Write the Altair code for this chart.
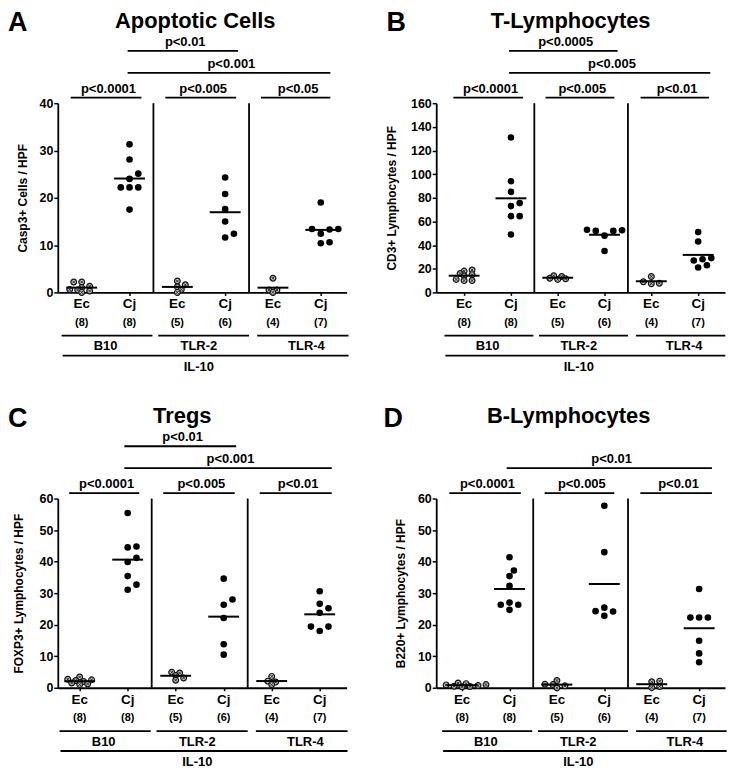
import altair as alt
import pandas as pd

FONT = "Liberation Sans"

# ---------------- data ----------------
group_labels = ["Ec", "Cj", "Ec", "Cj", "Ec", "Cj"]
group_counts = ["(8)", "(8)", "(5)", "(6)", "(4)", "(7)"]
strains = ["B10", "TLR-2", "TLR-4"]
strain_pos = [0.5, 2.45, 4.7]
strain_spans = [(-0.42, 1.48), (1.6, 3.5), (3.67, 5.58)]
il10_label = "IL-10"

A_vals = [
    [2.2, 2.2, 1.3, 1.0, 0.6, 0.5, 0.3, 0.0],
    [31.3, 28.1, 25.1, 24.0, 22.2, 22.2, 22.2, 17.5],
    [2.4, 1.6, 1.2, 0.6, 0.0],
    [24.3, 20.8, 17.6, 15.0, 12.4, 11.6],
    [3.0, 0.5, 0.5, 0.0],
    [19.0, 13.4, 13.4, 13.3, 12.4, 10.6, 10.4],
]
B_vals = [
    [19, 18, 16, 15, 14, 11, 10, 10],
    [131, 94, 85, 75.5, 73, 64.5, 64.5, 49],
    [14, 13.5, 12, 11.5, 11],
    [53, 52.5, 52, 52, 48, 35],
    [13.5, 9.0, 7.8, 7.4],
    [51, 43, 29, 28, 27, 23, 21],
]
C_vals = [
    [3.4, 2.7, 2.5, 2.3, 2.0, 1.5, 1.2, 1.0],
    [55.4, 44.8, 44.5, 41.2, 39.9, 35.4, 32.7, 31.1],
    [4.9, 4.7, 3.9, 3.1, 2.4],
    [34.6, 28.0, 26.3, 22.1, 13.8, 10.5],
    [3.6, 2.1, 1.8, 1.0],
    [30.6, 26.6, 25.2, 23.8, 19.4, 19.4, 18.0],
]
D_vals = [
    [1.5, 1.3, 1.0, 0.9, 0.7, 0.5, 0.4, 0.3],
    [41.4, 37.2, 35.4, 32.3, 27.0, 26.3, 26.3, 24.7],
    [2.3, 1.1, 1.0, 0.6, 0.0],
    [57.7, 43.0, 25.4, 24.3, 24.2, 22.8],
    [2.1, 1.9, 0.4, 0.1],
    [31.3, 22.3, 22.3, 22.3, 14.9, 10.9, 8.1],
]

# significance brackets: (from, to, label, level)
A_br = [(-0.23, 1.25, "p<0.0001", 0), (1.75, 3.23, "p<0.005", 0), (3.75, 5.2, "p<0.05", 0),
        (0.96, 5.2, "p<0.001", 1), (0.96, 3.27, "p<0.01", 2)]
B_br = [(-0.23, 1.26, "p<0.0001", 0), (1.74, 3.21, "p<0.005", 0), (3.77, 5.23, "p<0.01", 0),
        (0.96, 5.26, "p<0.005", 1), (0.96, 3.28, "p<0.0005", 2)]
C_br = [(-0.22, 1.24, "p<0.0001", 0), (1.74, 3.23, "p<0.005", 0), (3.75, 5.25, "p<0.01", 0),
        (0.93, 5.25, "p<0.001", 1), (0.93, 3.26, "p<0.01", 2)]
D_br = [(-0.27, 1.24, "p<0.0001", 0), (1.74, 3.21, "p<0.005", 0), (3.76, 5.27, "p<0.01", 0),
        (0.94, 5.27, "p<0.01", 1)]

W, H = 290, 190
LEVELS = [-5.5, -30.5, -52.5]
BELOW = dict(lab=206, cnt=220.5, ul=233.5, grp=244, il=253.5, iltxt=265)

panels = [
    dict(letter="A", title="Apoptotic Cells", ytitle="Casp3+ Cells / HPF", ymax=40,
         ticks=[0, 10, 20, 30, 40], vals=A_vals, br=A_br, xdom=[-0.5, 5.54],
         letter_x=-50, title_x=138, tpad=10),
    dict(letter="B", title="T-Lymphocytes", ytitle="CD3+ Lymphocytes / HPF", ymax=160,
         ticks=[0, 20, 40, 60, 80, 100, 120, 140, 160], vals=B_vals, br=B_br,
         xdom=[-0.596, 5.574], letter_x=-50, title_x=135, tpad=12),
    dict(letter="C", title="Tregs", ytitle="FOXP3+ Lymphocytes / HPF", ymax=60,
         ticks=[0, 10, 20, 30, 40, 50, 60], vals=C_vals, br=C_br,
         xdom=[-0.456, 5.56], letter_x=-50, title_x=125, tpad=14),
    dict(letter="D", title="B-Lymphocytes", ytitle="B220+ Lymphocytes / HPF", ymax=60,
         ticks=[0, 10, 20, 30, 40, 50, 60], vals=D_vals, br=D_br,
         xdom=[-0.546, 5.546], letter_x=-53, title_x=133, tpad=10),
]


def swarm(values, px_per_unit, diam, step):
    order = sorted(range(len(values)), key=lambda i: values[i])
    placed = []
    offs = [0.0] * len(values)
    cands = [0]
    for j in range(1, 12):
        cands += [j, -j]
    for i in order:
        y = values[i] * px_per_unit
        dx = 0.0
        for c in cands:
            dx = c * step
            if all((dx - pdx) ** 2 + (y - py) ** 2 >= diam ** 2 for pdx, py in placed):
                break
        placed.append((dx, y))
        offs[i] = dx
    return offs


def txt(**kw):
    base = dict(font=FONT, fontWeight="bold", color="black")
    base.update(kw)
    return base


def build(p):
    xs = alt.Scale(domain=p["xdom"], nice=False, zero=False)
    ys = alt.Scale(domain=[0, p["ymax"]], nice=False, zero=False)
    px_x = W / (p["xdom"][1] - p["xdom"][0])
    px_y = H / p["ymax"]

    yaxis = alt.Axis(values=p["ticks"], title=p["ytitle"],
                     domainWidth=1.8, domainColor="black", tickColor="black",
                     tickWidth=1.5, tickSize=4, labelFont=FONT, labelFontSize=12.5,
                     labelFontWeight="bold", labelColor="black", labelPadding=1,
                     titleFont=FONT, titleFontSize=12, titleFontWeight="bold",
                     titleColor="black", titlePadding=p["tpad"], grid=False)
    xaxis = alt.Axis(values=[0, 1, 2, 3, 4, 5], labels=False, title=None,
                     domainWidth=1.8, domainColor="black",
                     tickColor="black", tickWidth=1.5, tickSize=3, grid=False)

    def X(f):
        return alt.X(f, scale=xs, axis=xaxis)

    def Y(f):
        return alt.Y(f, scale=ys, axis=yaxis)

    pts, means = [], []
    for gi, vals in enumerate(p["vals"]):
        kind = group_labels[gi]
        diam = 4.6 if kind == "Ec" else 7.2
        step = 4.0 if kind == "Ec" else 4.4
        offs = swarm(vals, px_y, diam, step)
        for v, o in zip(vals, offs):
            pts.append(dict(x=gi + o / px_x, v=v, kind=kind))
        m = sum(vals) / len(vals)
        means.append(dict(x1=gi - 15.5 / px_x, x2=gi + 15.5 / px_x, m=m))
    pts = pd.DataFrame(pts)
    means = pd.DataFrame(means)

    cj = alt.Chart(pts[pts.kind == "Cj"]).mark_circle(size=44, color="black", opacity=1).encode(
        x=X("x:Q"), y=Y("v:Q"))
    ec = pts[pts.kind == "Ec"]
    ec1 = alt.Chart(ec).mark_point(shape="circle", filled=True, fill="#bdbdbd", stroke="#111",
                                   strokeWidth=1.2, size=34, opacity=1).encode(
        x=X("x:Q"), y=Y("v:Q"))
    ec2 = alt.Chart(ec).mark_point(shape="M-1,-1L1,1M-1,1L1,-1", filled=False, stroke="#222",
                                   strokeWidth=0.9, size=9, opacity=1).encode(
        x=X("x:Q"), y=Y("v:Q"))
    mean_l = alt.Chart(means).mark_rule(color="black", strokeWidth=2).encode(
        x=X("x1:Q"), x2="x2:Q", y=Y("m:Q"))

    seps = pd.DataFrame(dict(x=[1.5, 3.5], y0=[0, 0], y1=[p["ymax"], p["ymax"]]))
    sep_l = alt.Chart(seps).mark_rule(color="black", strokeWidth=1.8).encode(
        x=X("x:Q"), y=Y("y0:Q"), y2="y1:Q")

    # bracket heights: pixel levels above the plot, expressed on the y scale
    br = pd.DataFrame([dict(x1=a, x2=b, xc=(a + b) / 2 + 0.05, lab=t,
                            yv=p["ymax"] * (H - LEVELS[lv]) / H,
                            tv=p["ymax"] * (H - LEVELS[lv] + 5) / H)
                       for a, b, t, lv in p["br"]])
    br_l = alt.Chart(br).mark_rule(color="black", strokeWidth=1.8).encode(
        x=X("x1:Q"), x2="x2:Q", y=Y("yv:Q"))
    br_t = alt.Chart(br).mark_text(**txt(fontSize=13, baseline="alphabetic")).encode(
        x=X("xc:Q"), y=Y("tv:Q"), text="lab:N")

    b = BELOW
    lab_df = pd.DataFrame(dict(x=list(range(6)), lab=group_labels, cnt=group_counts))
    lab_t = alt.Chart(lab_df).mark_text(**txt(fontSize=13.5, baseline="alphabetic")).encode(
        x=X("x:Q"), y=alt.value(b["lab"]), text="lab:N")
    cnt_t = alt.Chart(lab_df).mark_text(**txt(fontSize=11, baseline="middle")).encode(
        x=X("x:Q"), y=alt.value(b["cnt"]), text="cnt:N")

    st_df = pd.DataFrame(dict(x1=[s[0] for s in strain_spans], x2=[s[1] for s in strain_spans],
                              xc=strain_pos, lab=strains))
    st_l = alt.Chart(st_df).mark_rule(color="black", strokeWidth=1.8).encode(
        x=X("x1:Q"), x2="x2:Q", y=alt.value(b["ul"]))
    st_t = alt.Chart(st_df).mark_text(**txt(fontSize=13, baseline="middle")).encode(
        x=X("xc:Q"), y=alt.value(b["grp"]), text="lab:N")

    il_df = pd.DataFrame(dict(x1=[-0.4], x2=[5.58], xc=[2.45], lab=[il10_label]))
    il_l = alt.Chart(il_df).mark_rule(color="black", strokeWidth=1.8).encode(
        x=X("x1:Q"), x2="x2:Q", y=alt.value(b["il"]))
    il_t = alt.Chart(il_df).mark_text(**txt(fontSize=13, baseline="middle")).encode(
        x=X("xc:Q"), y=alt.value(b["iltxt"]), text="lab:N")

    head = pd.DataFrame(dict(letter=[p["letter"]], title=[p["title"]]))
    let_t = alt.Chart(head).mark_text(**txt(fontSize=27, align="left", baseline="alphabetic")).encode(
        x=alt.value(p["letter_x"]), y=alt.value(-72), text="letter:N")
    tit_t = alt.Chart(head).mark_text(**txt(fontSize=22, align="center", baseline="alphabetic")).encode(
        x=alt.value(p["title_x"]), y=alt.value(-76), text="title:N")

    return alt.layer(cj, ec1, ec2, mean_l, sep_l, br_l, br_t, lab_t, cnt_t,
                     st_l, st_t, il_l, il_t, let_t, tit_t).properties(width=W, height=H)


charts = [build(p) for p in panels]
chart = alt.concat(*charts, columns=2, spacing={"row": 207, "column": 90},
                   bounds="flush").properties(
    padding=0, background="white"
).configure_view(stroke=None)

chart.save("out.html", embed_options={"renderer": "svg", "actions": False})
